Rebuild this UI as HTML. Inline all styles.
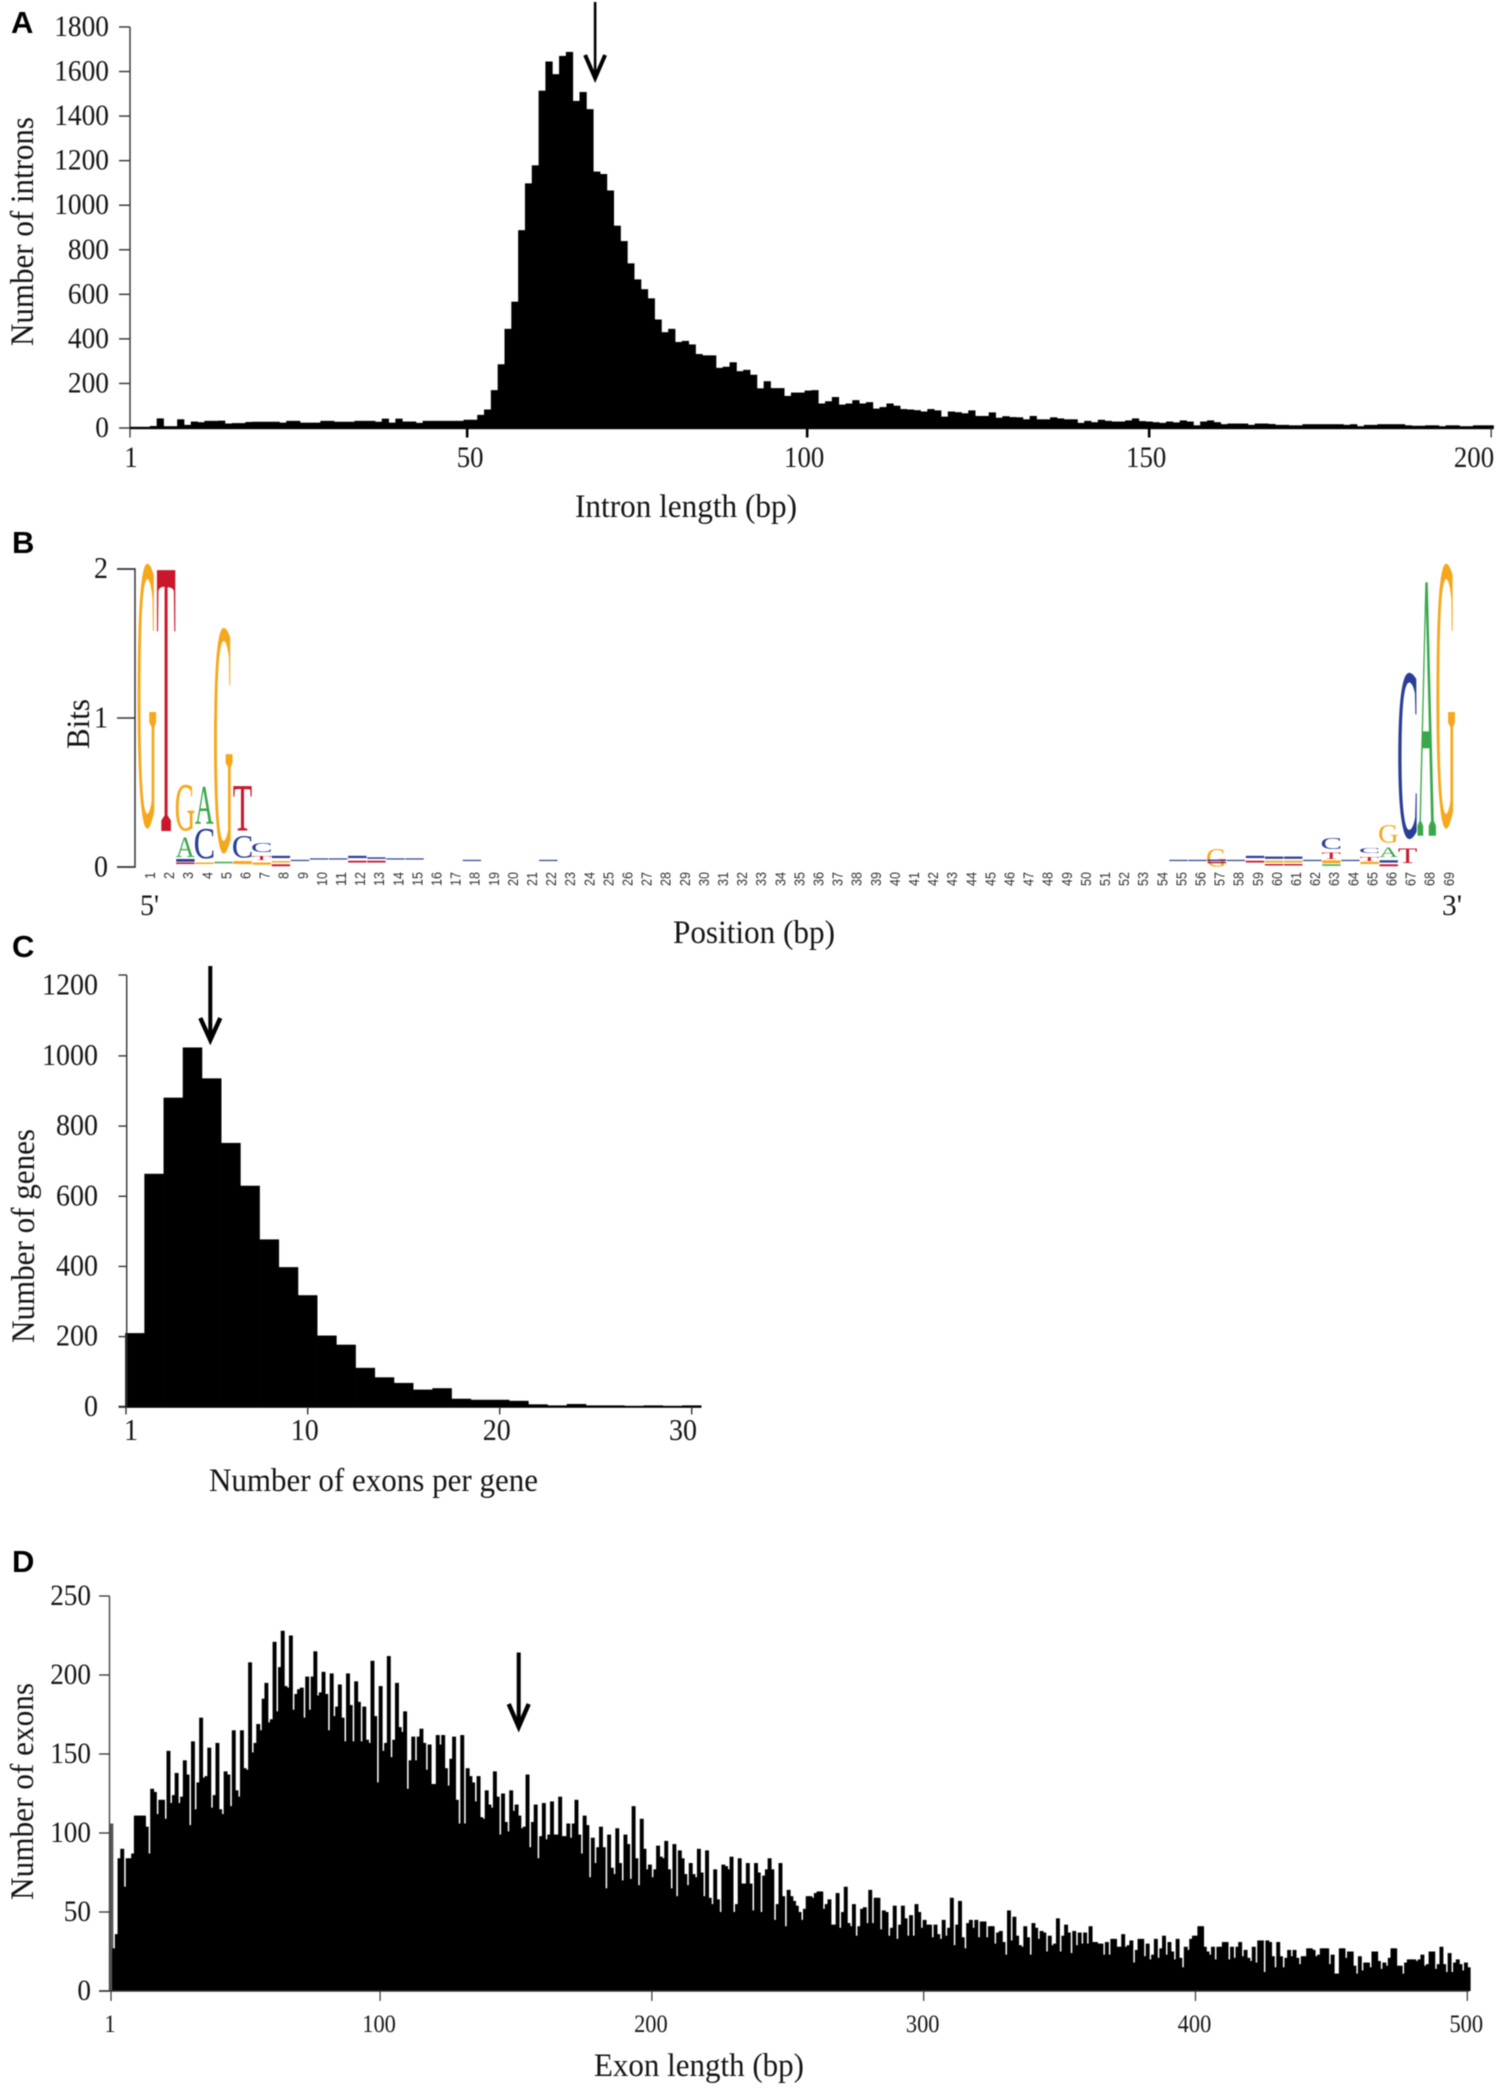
<!DOCTYPE html>
<html lang="en">
<head>
<meta charset="utf-8">
<title>Intron and exon statistics</title>
<style>
html,body{margin:0;padding:0;background:#fff;}
svg{display:block;filter:blur(0.4px);}
text{font-family:"Liberation Serif",serif;fill:#151515;}
.panel{font-family:"Liberation Sans",sans-serif;font-weight:700;font-size:31px;fill:#000;}
.tick{font-size:30px;}
.title{font-size:33px;}
.pos{font-family:"Liberation Sans",sans-serif;font-size:14.5px;fill:#333;}
</style>
</head>
<body>
<svg id="figure" xmlns="http://www.w3.org/2000/svg" width="1504" height="2088" viewBox="0 0 1504 2088">
  <rect width="1504" height="2088" fill="#fff"/>

  <text class="panel" x="11" y="33">A</text>
  <text class="panel" x="12" y="553">B</text>
  <text class="panel" x="12" y="957">C</text>
  <text class="panel" x="12" y="1572">D</text>

  <g id="panelA"></g>
  <g id="panelB"></g>
  <g id="panelC"></g>
  <g id="panelD"></g>

  <text class="title" transform="translate(33 346) rotate(-90)" textLength="229" lengthAdjust="spacingAndGlyphs">Number of introns</text>
  <text class="title" x="575" y="517" textLength="222" lengthAdjust="spacingAndGlyphs">Intron length (bp)</text>

  <text class="title" transform="translate(89 749) rotate(-90)" textLength="50" lengthAdjust="spacingAndGlyphs">Bits</text>
  <text class="title" x="673" y="943" textLength="162" lengthAdjust="spacingAndGlyphs">Position (bp)</text>
  <text class="tick" x="140" y="915" textLength="19" lengthAdjust="spacingAndGlyphs">5'</text>
  <text class="tick" x="1442" y="915" textLength="20" lengthAdjust="spacingAndGlyphs">3'</text>

  <text class="title" transform="translate(34 1343) rotate(-90)" textLength="214" lengthAdjust="spacingAndGlyphs">Number of genes</text>
  <text class="title" x="209" y="1491" textLength="329" lengthAdjust="spacingAndGlyphs">Number of exons per gene</text>

  <text class="title" transform="translate(33 1900) rotate(-90)" textLength="217" lengthAdjust="spacingAndGlyphs">Number of exons</text>
  <text class="title" x="594" y="2076" textLength="210" lengthAdjust="spacingAndGlyphs">Exon length (bp)</text>
</svg>

<script>
/* ---------- Panel A data: intron length histogram (1..200 bp) ---------- */
const intronCounts = [
0,0,2,9,43,8,8,39,14,29,26,32,32,33,20,22,22,27,28,28,28,28,24,32,32,24,24,24,32,32,28,28,28,32,32,32,28,42,24,42,29,29,23,32,32,32,32,32,32,37,37,
59,83,170,286,445,567,888,1098,1179,1514,1645,1588,1670,1688,1468,1508,1431,1151,1140,1066,908,839,739,667,623,582,487,430,445,386,391,375,332,326,326,
270,275,295,255,261,239,178,210,179,179,144,159,159,168,170,110,120,139,105,110,125,110,116,87,94,110,100,85,83,80,74,85,79,51,74,71,66,79,54,54,70,46,53,49,48,
39,54,39,39,48,43,39,39,23,32,26,37,32,29,29,34,43,
31,29,26,23,29,25,34,29,12,29,34,26,17,
20,20,20,14,20,20,18,14,14,12,12,17,17,17,17,17,17,14,17,8,14,14,17,17,17,17,12,10,10,12,12,8,12,12,8,8,12,12,12];
const intronYTicks = [0,200,400,600,800,1000,1200,1400,1600,1800];
const intronXTicks = [1,50,100,150,200];
const intronArrowLength = 69;

/* ---------- Panel B data: sequence logo, [position, base, bits-from, bits-to] ---------- */
const logoPositions = 69;
const logoYTicks = [0,1,2];
const logoLetters = [
[1,'G',.23,2.03],[2,'T',.215,1.98],
[3,'G',.235,.55],[3,'A',.067,.2],[3,'C',.035,.054],[3,'T',.02,.03],
[4,'A',.29,.537],[4,'C',.054,.255],[4,'G',.02,.03],
[5,'G',.067,1.6],[5,'A',.025,.035],
[6,'T',.24,.54],[6,'C',.06,.21],[6,'G',.02,.04],
[7,'C',.10,.16],[7,'T',.047,.074],[7,'G',.015,.03],
[8,'C',.06,.075],[8,'G',.03,.04],[8,'T',.005,.018],
[9,'C',.04,.048],[10,'C',.05,.058],[11,'C',.05,.058],
[12,'C',.06,.075],[12,'T',.03,.042],[13,'C',.055,.065],[13,'T',.03,.042],
[14,'C',.05,.058],[15,'C',.05,.058],[18,'C',.04,.048],[22,'C',.04,.048],
[55,'C',.04,.048],[56,'C',.04,.048],
[57,'G',0,.12],[57,'C',.04,.05],[57,'T',.025,.035],
[58,'C',.04,.048],
[59,'C',.06,.075],[59,'T',.03,.042],
[60,'C',.055,.07],[60,'G',.03,.042],[60,'T',.01,.02],
[61,'C',.055,.07],[61,'G',.03,.042],[61,'T',.01,.02],
[62,'C',.04,.048],
[63,'C',.12,.195],[63,'T',.054,.094],[63,'G',.025,.045],[63,'A',.008,.018],
[64,'C',.04,.048],
[65,'C',.094,.128],[65,'T',.04,.067],[65,'G',.02,.035],
[66,'G',.16,.28],[66,'A',.067,.134],[66,'C',.03,.045],[66,'T',.005,.018],
[67,'C',.17,1.30],[67,'T',.027,.127],
[68,'A',.21,1.91],
[69,'G',.23,2.03]];

/* ---------- Panel C data: number of exons per gene ---------- */
const geneCounts = [210,664,881,1024,936,752,630,477,398,318,203,177,111,84,68,49,53,23,20,20,17,7,4,8,4,4,2,4,2,4];
const geneYTicks = [0,200,400,600,800,1000,1200];
const geneXTicks = [1,10,20,30];
const geneArrowExons = 5;

/* ---------- Panel D data: exon length histogram (1..500 bp) ---------- */
const exonCounts = [
106,27,36,84,90,66,84,84,87,111,
111,111,111,104,87,128,126,112,121,121,
109,152,119,124,138,119,123,146,137,105,
158,115,132,173,135,136,154,116,124,157,
115,112,139,137,117,165,127,123,165,141,
140,208,151,157,169,165,185,195,170,172,
221,177,205,228,193,192,225,178,188,191,
192,173,199,178,199,215,187,189,202,188,
165,201,174,180,194,173,158,201,181,158,
196,183,158,180,159,157,209,174,132,193,
152,157,212,148,159,195,167,164,177,128,
146,161,146,161,166,157,140,156,131,131,
162,156,162,141,130,147,161,121,106,162,
106,141,136,132,120,136,110,109,127,118,
116,139,123,99,125,107,101,127,114,118,
111,103,104,137,91,107,118,84,98,119,
96,99,120,99,99,123,98,98,106,97,
106,121,99,87,111,105,72,97,81,91,
104,91,65,99,78,74,103,81,70,99,
93,71,117,84,67,109,90,77,80,72,
77,92,85,84,95,77,65,93,60,89,
84,74,67,81,74,72,90,75,60,89,
59,55,77,58,50,80,79,77,85,50,
55,84,68,68,81,68,51,81,75,50,
73,77,84,77,45,55,81,60,41,64,
60,57,54,50,45,52,60,60,59,62,
63,63,52,55,58,42,42,62,40,50,
66,43,41,55,35,41,52,53,43,64,
43,59,59,39,51,50,35,40,54,33,
42,54,46,35,48,35,55,50,40,45,
42,42,34,42,36,33,45,35,40,59,
29,42,57,34,27,43,45,40,45,34,
44,44,34,41,41,30,37,38,31,23,
51,32,47,35,29,28,41,34,23,43,
40,33,38,37,25,35,29,30,46,25,
35,42,37,24,38,29,37,30,37,30,
41,31,31,30,30,23,31,23,33,33,
28,28,36,28,29,32,18,26,33,33,
22,30,20,23,33,21,27,35,23,31,
25,20,33,21,15,28,26,33,35,35,
41,41,28,25,23,28,20,28,28,31,
31,20,28,21,28,31,22,26,21,19,
28,18,32,32,12,32,31,22,15,31,
22,15,21,26,22,26,21,17,22,22,
27,27,26,22,23,27,27,27,17,23,
11,11,27,27,21,25,25,16,11,22,
13,18,18,15,25,25,19,14,18,16,
21,27,27,16,16,11,18,20,20,20,
19,20,23,16,17,25,25,14,17,28,
17,12,24,12,18,20,17,13,18,15];
const exonYTicks = [0,50,100,150,200,250];
const exonXTicks = [1,100,200,300,400,500];
const exonArrowLength = 151;

/* ---------- Axis functions ---------- */
const xA = v => 130 + (v - 1) * 6.84;
const binA = j => 129.6 + 6.82 * j;
const yA = v => 428 - v * 0.2228;

const xLogo = i => 147 + 19.1 * (i - 1);
const yLogo = b => 867 - 149 * b;

const binC = j => 125.3 + 19.2 * j;
const xC = v => binC(v - 0.5);
const yC = v => 1406.8 - v * 0.3509;

const xD = v => 111 + (v - 1) * 2.718;
const binD = j => 110 + 2.72 * j;
const yD = v => 1991 - v * 1.58;

const NS = 'http://www.w3.org/2000/svg';
function make(tag, attrs, parent, txt) {
  const n = document.createElementNS(NS, tag);
  for (const k in attrs) n.setAttribute(k, attrs[k]);
  if (txt !== undefined) n.textContent = txt;
  parent.appendChild(n);
  return n;
}
/* tall, slightly condensed numerals: fontSize with a fixed advance per digit */
function tickText(parent, value, x, y, anchor, fontSize, digitWidth) {
  const s = String(value);
  return make('text', {x:x, y:y, 'text-anchor':anchor, style:'font-size:' + fontSize + 'px', textLength:s.length * digitWidth, lengthAdjust:'spacingAndGlyphs'}, parent, s);
}

const pA = document.getElementById('panelA');
const pB = document.getElementById('panelB');
const pC = document.getElementById('panelC');
const pD = document.getElementById('panelD');

function drawArrow(parent, name, x, yStart, yTip, halfHead, headLen, shaft, strokeHead) {
  const s = make('line', {x1:x, y1:yStart, x2:x, y2:yTip - 6, stroke:'#000', 'stroke-width':shaft}, parent);
  
  
  const h = make('polyline', {points:(x-halfHead)+','+(yTip-headLen)+' '+x+','+(yTip-6)+' '+(x+halfHead)+','+(yTip-headLen), fill:'none', stroke:'#000', 'stroke-width':strokeHead, 'stroke-linejoin':'miter', 'stroke-miterlimit':10}, parent);
  
  
}

/* ---------- Panel A ---------- */
intronCounts.forEach((v, j) => {
  const r = make('rect', {x:binA(j) - 0.2, y:yA(v), width:6.82 + 0.4, height:Math.max(0, yA(0) - yA(v)), fill:'#000'}, pA);
  
  
});
{
  const ax = make('line', {x1:130, y1:yA(1800), x2:130, y2:yA(0), stroke:'#333', 'stroke-width':1.4}, pA);
  
  
  const bl = make('rect', {x:130, y:426.8, width:1363.7, height:2.4, fill:'#000'}, pA);
  
  
}
intronYTicks.forEach(v => {
  const t = make('line', {x1:119, y1:yA(v), x2:130, y2:yA(v), stroke:'#333', 'stroke-width':1.4}, pA);
  
  
  const l = tickText(pA, v, 109, yA(v) + 9, 'end', 30, 13.7);
  
  
});
intronXTicks.forEach(v => {
  const thin = (v === 1 || v === 200);
  const t = make('line', {x1:xA(v) + (v === 50 ? 2 : 0), y1:428, x2:xA(v) + (v === 50 ? 2 : 0), y2:437.5, stroke:thin ? '#333' : '#000', 'stroke-width':thin ? 1.3 : 2.6}, pA);
  
  
  const cx = v === 1 ? 131 : v === 200 ? 1474 : xA(v) + (v === 50 ? 5 : -3);
  const l = tickText(pA, v, cx, 467, 'middle', 30, 13.4);
  
  
});
drawArrow(pA, 'a-median-arrow', xA(intronArrowLength), 2, 84, 10, 29, 2.6, 4);

/* ---------- Panel B ---------- */
const logoColors = {G:'#f6a81c', T:'#c9182c', A:'#3aa84a', C:'#2b3e96'};
const meter = document.createElement('canvas').getContext('2d');
meter.font = '100px "Liberation Serif"';
{
  const ax = make('polyline', {points:'117,'+yLogo(2)+' 135,'+yLogo(2)+' 135,'+yLogo(0)+' 117,'+yLogo(0), fill:'none', stroke:'#333', 'stroke-width':1.5}, pB);
  
  
}
logoYTicks.forEach(v => {
  const t = make('line', {x1:117, y1:yLogo(v), x2:135, y2:yLogo(v), stroke:'#333', 'stroke-width':1.5}, pB);
  
  
  const l = tickText(pB, v, 108, yLogo(v) + (v === 2 ? 9 : 9.5), 'end', 31, 14);
  
  
});
logoLetters.forEach(([pos, base, from, to]) => {
  const yTop = yLogo(to), yBot = yLogo(from), cx = xLogo(pos), w = 18.8;
  const h = yBot - yTop;
  if (h < 3.6) {
    const r = make('rect', {x:cx - 9, y:yTop, width:18.4, height:Math.max(h, 1.2), fill:logoColors[base]}, pB);
    
    
  } else {
    const m = meter.measureText(base);
    const left = -m.actualBoundingBoxLeft, right = m.actualBoundingBoxRight;
    const asc = m.actualBoundingBoxAscent, desc = m.actualBoundingBoxDescent;
    const sx = w / (right - left), sy = h / (asc + desc);
    const tx = cx - w / 2 - left * sx, ty = yBot - desc * sy;
    const g = make('text', {transform:'translate(' + tx + ' ' + ty + ') scale(' + sx + ' ' + sy + ')', style:'font-size:100px;fill:' + logoColors[base]}, pB, base);
    
    
  }
});
for (let i = 1; i <= logoPositions; i++) {
  const px = xLogo(i) + 3 + 5;
  const s = String(i);
  const l = make('text', {class:'pos', transform:'translate(' + px + ' 872) rotate(-90)', 'text-anchor':'end', textLength:s.length * 7, lengthAdjust:'spacingAndGlyphs'}, pB, s);
  
  
}

/* ---------- Panel C ---------- */
geneCounts.forEach((v, j) => {
  const r = make('rect', {x:binC(j) - 0.15, y:yC(v), width:19.2 + 0.3, height:yC(0) - yC(v), fill:'#000'}, pC);
  
  
});
{
  const ax = make('line', {x1:126.7, y1:975, x2:126.7, y2:yC(0), stroke:'#333', 'stroke-width':1.4}, pC);
  
  
  const bl = make('rect', {x:118.5, y:1405.8, width:583, height:2, fill:'#000'}, pC);
  
  
}
geneYTicks.forEach(v => {
  const ty = v === 1200 ? 975 : yC(v);
  const t = make('line', {x1:118.5, y1:ty, x2:126.7, y2:ty, stroke:'#333', 'stroke-width':1.4}, pC);
  
  
  const l = tickText(pC, v, 98, yC(v) + 9, 'end', 31, 14);
  
  
});
geneXTicks.forEach(v => {
  const tx = v === 1 ? 126 : xC(v);
  const t = make('line', {x1:tx, y1:1407, x2:tx, y2:1414.5, stroke:'#333', 'stroke-width':1.4}, pC);
  
  
  const cx = v === 1 ? 131 : v === 30 ? 683 : tx - 3;
  const l = tickText(pC, v, cx, 1440, 'middle', 31, 14);
  
  
});
drawArrow(pC, 'c-median-arrow', xC(geneArrowExons) - 1.4, 966, 1046, 10, 28, 4, 4.4);

/* ---------- Panel D ---------- */
exonCounts.forEach((v, j) => {
  const r = make('rect', {x:binD(j) - 0.6, y:yD(v), width:2.72 + 1.2, height:yD(0) - yD(v), fill:j === 0 ? '#555' : '#000'}, pD);
  
  
});
{
  const ax = make('line', {x1:109.5, y1:yD(250), x2:109.5, y2:yD(0), stroke:'#444', 'stroke-width':1.4}, pD);
  
  
  const bl = make('line', {x1:99, y1:yD(0), x2:1469, y2:yD(0), stroke:'#333', 'stroke-width':1.5}, pD);
  
  
}
exonYTicks.forEach(v => {
  const t = make('line', {x1:99, y1:yD(v), x2:109.5, y2:yD(v), stroke:'#333', 'stroke-width':1.3}, pD);
  
  
  const l = tickText(pD, v, 91, yD(v) + 9, 'end', 30, 13.6);
  
  
});
exonXTicks.forEach(v => {
  const t = make('line', {x1:xD(v), y1:yD(0), x2:xD(v), y2:2001, stroke:'#333', 'stroke-width':1.2}, pD);
  
  
  const l = tickText(pD, v, xD(v) - 1, 2032, 'middle', 25, 11.2);
  
  
});
drawArrow(pD, 'd-median-arrow', xD(exonArrowLength), 1652.5, 1733, 10, 29, 4, 4.4);
</script>
</body>
</html>
